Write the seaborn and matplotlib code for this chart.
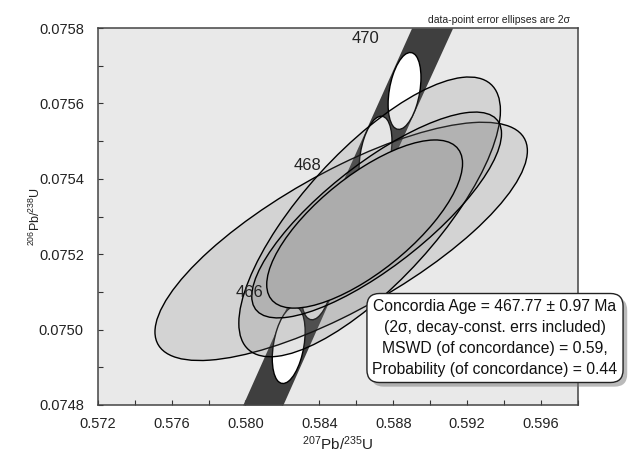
import matplotlib
matplotlib.use("Agg")
import matplotlib.pyplot as plt
import matplotlib.patches as mpatches
import matplotlib.patheffects as pe
from matplotlib.transforms import Affine2D
from matplotlib.ticker import MultipleLocator, FormatStrFormatter
import numpy as np
import seaborn as sns

# concordia band edges (207Pb/235U at given 206Pb/238U)
band_y = [0.0748, 0.0753, 0.0758]
band_left = [0.57985, 0.58440, 0.58899]
band_right = [0.58202, 0.58656, 0.59121]

# age markers on concordia (Ma)
marker_age = [466, 467, 468, 469, 470]
marker_x = [0.58234, 0.58391, 0.58548, 0.58704, 0.58861]
marker_y = [0.074959, 0.075128, 0.075296, 0.075464, 0.075633]
marker_x_err = 0.00089
marker_y_err = 0.000102
marker_rho = 0.35
labelled_ages = [466, 468, 470]

# data-point ellipses (2 sigma)
spot_x = [0.58518, 0.58672, 0.58710]
spot_x_err = [0.01008, 0.00708, 0.00676]
spot_y = [0.075234, 0.075299, 0.075304]
spot_y_err = [0.000316, 0.000371, 0.000273]
spot_rho = [0.76, 0.76, 0.79]

# concordia age ellipse
conc_x, conc_x_err = 0.58645, 0.0053
conc_y, conc_y_err = 0.07528, 0.000223
conc_rho = 0.72

box_text = ("Concordia Age = 467.77 \u00b1 0.97 Ma\n"
            "(2\u03c3, decay-const. errs included)\n"
            "MSWD (of concordance) = 0.59,\n"
            "Probability (of concordance) = 0.44")

sns.set_theme(style="ticks")
plt.rcParams['font.family'] = ['Liberation Sans', 'DejaVu Sans']
plt.rcParams['mathtext.fontset'] = 'custom'
plt.rcParams['mathtext.rm'] = 'Liberation Sans'
plt.rcParams['mathtext.it'] = 'Liberation Sans:italic'
plt.rcParams['mathtext.bf'] = 'Liberation Sans:bold'

fig = plt.figure(figsize=(6.3, 4.62), dpi=100)
ax = fig.add_axes([97.7 / 630, 1 - 405 / 462, (578 - 97.7) / 630, (405 - 28) / 462])
ax.set_facecolor('#e9e9e9')


def add_ellipse(x, y, xe, ye, rho, z, **kw):
    # unit circle mapped through the error ellipse matrix
    tr = Affine2D().from_values(xe, rho * ye, 0, ye * np.sqrt(1 - rho ** 2), x, y)
    circ = mpatches.Circle((0, 0), 1, transform=tr + ax.transData, zorder=z, **kw)
    ax.add_patch(circ)


ax.fill_betweenx(band_y, band_left, band_right, color='#3f3f3f', lw=0, zorder=1)

for mx, my in zip(marker_x, marker_y):
    add_ellipse(mx, my, marker_x_err, marker_y_err, marker_rho, 2,
                facecolor='white', edgecolor='black', lw=1.0)

for x, y, xe, ye, r in zip(spot_x, spot_y, spot_x_err, spot_y_err, spot_rho):
    add_ellipse(x, y, xe, ye, r, 3,
                facecolor=(0.45, 0.45, 0.45, 0.18), edgecolor='black', lw=1.0)

add_ellipse(conc_x, conc_y, conc_x_err, conc_y_err, conc_rho, 4,
            facecolor='#acacac', edgecolor='black', lw=1.0)

for age, mx, my in zip(marker_age, marker_x, marker_y):
    if age in labelled_ages:
        ax.annotate(str(age), (mx, my), xytext=(-28, 37.5), textcoords='offset points',
                    ha='center', va='center', fontsize=12, color='#222222', zorder=6)

ax.set_xlim(0.572, 0.598)
ax.set_ylim(0.0748, 0.0758)
ax.xaxis.set_major_locator(MultipleLocator(0.004))
ax.xaxis.set_minor_locator(MultipleLocator(0.002))
ax.yaxis.set_major_locator(MultipleLocator(0.0002))
ax.yaxis.set_minor_locator(MultipleLocator(0.0001))
ax.xaxis.set_major_formatter(FormatStrFormatter('%.3f'))
ax.yaxis.set_major_formatter(FormatStrFormatter('%.4f'))
ax.tick_params(which='both', direction='in', length=3.5, width=0.8, color='#333333',
               labelsize=10.5, labelcolor='#222222')
ax.tick_params(axis='y', pad=10)
ax.tick_params(axis='x', pad=9)
for s in ax.spines.values():
    s.set_color('#444444')
    s.set_linewidth(1.1)

ax.set_xlabel(r'$^{207}$Pb/$^{235}$U', fontsize=11, color='#222222', labelpad=2)
ax.set_ylabel(r'$^{206}$Pb/$^{238}$U', fontsize=9, color='#222222', labelpad=-3)

fig.text(570 / 630, 1 - 20 / 462, 'data-point error ellipses are 2\u03c3',
         ha='right', va='center', fontsize=7.5, color='#222222')

t = fig.text(495 / 630, 1 - 338 / 462, box_text, ha='center', va='center',
             multialignment='center', fontsize=11.3, color='#111111', linespacing=1.5,
             bbox=dict(boxstyle='round,pad=0.35,rounding_size=0.8', facecolor='white',
                       edgecolor='#222222', lw=1.0), zorder=10)
t.get_bbox_patch().set_path_effects([
    pe.SimplePatchShadow(offset=(3, -3), shadow_rgbFace='#777777', alpha=0.5), pe.Normal()])

fig.savefig('out.png', dpi=100)
